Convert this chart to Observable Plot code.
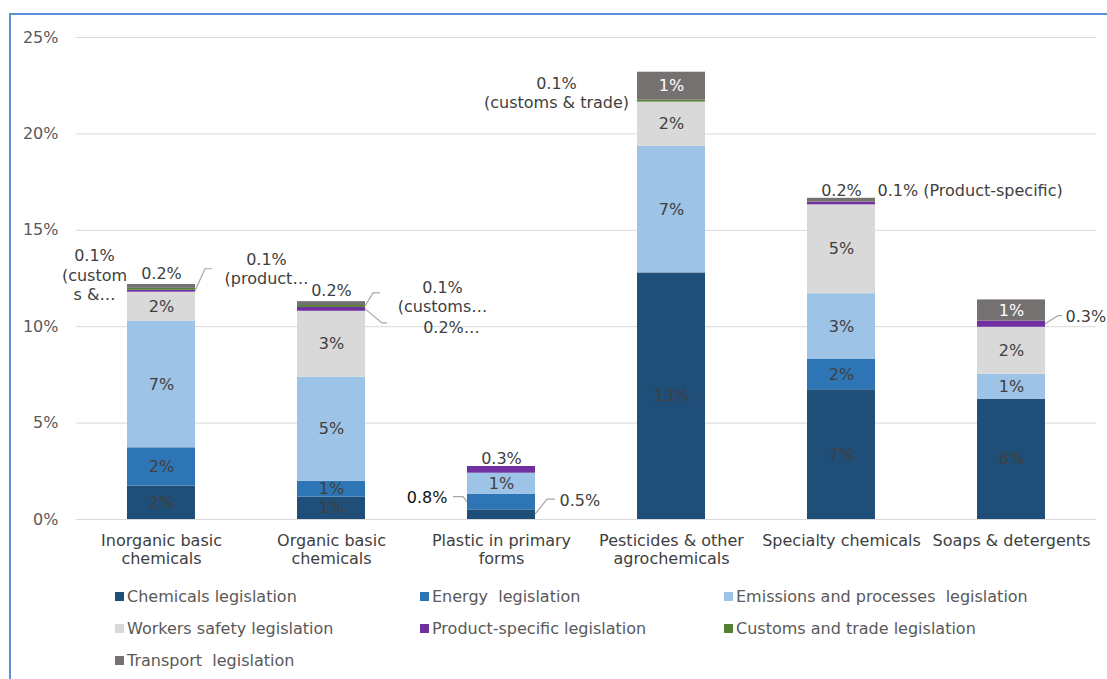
<!DOCTYPE html>
<html><head><meta charset="utf-8">
<script src="https://cdn.jsdelivr.net/npm/d3@7"></script>
<script src="https://cdn.jsdelivr.net/npm/@observablehq/plot@0.6"></script>
<style>
body{margin:0;background:#fff;font-family:"DejaVu Sans",Verdana,sans-serif;}
#wrap{position:relative;width:1107px;height:679px;overflow:hidden;background:#fff;}
#frame{position:absolute;left:9px;top:13px;width:1200px;height:720px;border:2px solid #5B8FD6;box-sizing:border-box;pointer-events:none;}
#chart{position:absolute;left:0;top:0;}
.sw{position:absolute;width:9px;height:9px;}
.lt{position:absolute;font-size:16px;line-height:20px;color:#595959;white-space:pre;}
</style></head>
<body><div id="wrap"><div id="chart"></div><div id="legend"></div><div id="frame"></div></div>
<script>
// ---- data ----
const categories = ["Inorganic basic chemicals","Organic basic chemicals","Plastic in primary forms","Pesticides & other agrochemicals","Specialty chemicals","Soaps & detergents"];
const categoryTickLabels = ["Inorganic basic\nchemicals","Organic basic\nchemicals","Plastic in primary\nforms","Pesticides & other\nagrochemicals","Specialty chemicals","Soaps & detergents"];
const series = ["Chemicals legislation","Energy  legislation","Emissions and processes  legislation","Workers safety legislation","Product-specific legislation","Customs and trade legislation","Transport  legislation"];
const colors = ["#1F4E79","#2E75B6","#9DC3E6","#D9D9D9","#7030A0","#548235","#767171"];

const chemicals = [1.73, 1.16, 0.50, 12.79, 6.73, 6.24];
const energy    = [1.99, 0.83, 0.80, 0.00, 1.57, 0.00];
const emissions = [6.57, 5.39, 1.10, 6.56, 3.41, 1.30];
const workers   = [1.50, 3.42, 0.00, 2.30, 4.61, 2.43];
const product   = [0.10, 0.20, 0.35, 0.00, 0.14, 0.32];
const customs   = [0.10, 0.10, 0.00, 0.10, 0.00, 0.00];
const transport = [0.20, 0.20, 0.00, 1.45, 0.20, 1.10];
const values = [chemicals, energy, emissions, workers, product, customs, transport];

const chemicalsLabels = ["2%","1%","","13%","7%","6%"];
const energyLabels    = ["2%","1%","","","2%",""];
const emissionsLabels = ["7%","5%","1%","7%","3%","1%"];
const workersLabels   = ["2%","3%","","2%","5%","2%"];
const productLabels   = ["","","","","",""];
const customsLabels   = ["","","","","",""];
const transportLabels = ["","","","1%","","1%"];
const innerLabels = [chemicalsLabels, energyLabels, emissionsLabels, workersLabels, productLabels, customsLabels, transportLabels];

const yTicks = [0, 5, 10, 15, 20, 25];
const yTickLabels = ["0%","5%","10%","15%","20%","25%"];

// outside labels: category index, series index, anchor ("top" of stack or "mid" of segment), text
const outsideLabels = [
  {c:0, s:5, at:"top", text:"0.1%\n(custom\ns &…", dx:-67, dy:-10, anchor:"middle"},
  {c:0, s:6, at:"top", text:"0.2%", dx:0, dy:-12, anchor:"middle"},
  {c:0, s:4, at:"top", text:"0.1%\n(product…", dx:105, dy:-16, anchor:"middle"},
  {c:1, s:6, at:"top", text:"0.2%", dx:0, dy:-12, anchor:"middle"},
  {c:1, s:5, at:"top", text:"0.1%\n(customs…", dx:111, dy:-5, anchor:"middle"},
  {c:1, s:4, at:"top", text:"0.2%…", dx:120, dy:25, anchor:"middle"},
  {c:2, s:4, at:"top", text:"0.3%", dx:0, dy:-9, anchor:"middle"},
  {c:2, s:1, at:"mid", text:"0.8%", dx:-54, dy:-5, anchor:"end", fill:"#111111"},
  {c:2, s:0, at:"mid", text:"0.5%", dx:58, dy:-15, anchor:"start"},
  {c:3, s:5, at:"mid", text:"0.1%\n(customs & trade)", dx:-115, dy:-9, anchor:"middle"},
  {c:4, s:6, at:"top", text:"0.2%", dx:0, dy:-8, anchor:"middle"},
  {c:4, s:4, at:"top", text:"0.1% (Product-specific)", dx:36, dy:-8, anchor:"start"},
  {c:5, s:4, at:"mid", text:"0.3%", dx:54, dy:-8, anchor:"start"}
];
// leader lines: from bar edge at segment middle, bends in pixels
const leaders = [
  {c:0, s:4, side:"right", pts:[[0,0],[10,-22],[17,-22]]},
  {c:1, s:5, side:"right", pts:[[0,0],[8,-13],[15,-13]]},
  {c:1, s:4, side:"right", pts:[[0,0],[17,14],[22,14]]},
  {c:2, s:1, side:"left",  pts:[[0,0],[-4,-5],[-14,-5]]},
  {c:2, s:0, side:"right", pts:[[0,0],[12,-15],[20,-15]]},
  {c:5, s:4, side:"right", pts:[[0,0],[13,-8],[17,-8]]}
];

// ---- build table ----
const data = [];
series.forEach((s, j) => categories.forEach((c, i) => data.push({category:c, series:s, value:values[j][i], label:innerLabels[j][i] || null})));
const stackTop = i => values.reduce((a, v) => a + v[i], 0);
const segMid = (i, j) => values.slice(0, j).reduce((a, v) => a + v[i], 0) + values[j][i] / 2;

const font = "DejaVu Sans, Verdana, sans-serif";
const plot = Plot.plot({
  width: 1107, height: 575,
  marginLeft: 76, marginRight: 11, marginTop: 37, marginBottom: 56,
  style: {fontFamily: font, fontSize: "16px", color: "#595959", background: "transparent", overflow: "visible"},
  x: {domain: categories, paddingInner: 0.6, paddingOuter: 0.3, label: null},
  y: {domain: [0, 25], label: null},
  color: {domain: series, range: colors},
  marks: [
    Plot.ruleY(yTicks, {stroke: "#D9D9D9", strokeWidth: 1}),
    Plot.axisY(yTicks, {tickSize: 0, tickPadding: 18, tickFormat: d => yTickLabels[yTicks.indexOf(d)], fontSize: 16, fill: "#595959", label: null}),
    Plot.axisX({tickSize: 0, tickPadding: 13, tickFormat: d => categoryTickLabels[categories.indexOf(d)], fontSize: 16, fill: "#404040", lineHeight: 1.15, label: null}),
    Plot.barY(data, {x: "category", y: "value", fill: "series"}),
    Plot.text(data, Plot.stackY({x: "category", y: "value", z: "series", text: "label", fontSize: 16,
      fill: d => d.series === series[6] ? "#FFFFFF" : "#404040"})),
    ...outsideLabels.map(e => Plot.text([e], {
      x: d => categories[d.c],
      y: d => d.at === "top" ? stackTop(d.c) : segMid(d.c, d.s),
      text: "text", dx: e.dx, dy: e.dy, textAnchor: e.anchor, lineAnchor: "middle", lineHeight: 1.2,
      fontSize: 16, fill: e.fill || "#404040"
    }))
  ]
});
document.getElementById("chart").appendChild(plot);

// leader lines positioned through the plot's scales
const xs = plot.scale("x"), ys = plot.scale("y");
const g = d3.select(plot).append("g").attr("fill", "none").attr("stroke", "#A6A6A6").attr("stroke-width", 1.2);
leaders.forEach(L => {
  const x0 = xs.apply(categories[L.c]) + (L.side === "right" ? xs.bandwidth : 0);
  const y0 = ys.apply(segMid(L.c, L.s));
  g.append("path").attr("d", d3.line()(L.pts.map(([dx, dy]) => [x0 + dx, y0 + dy])));
});

// legend (HTML, below the SVG)
const legCols = [115, 420, 724], legRows = [597, 629, 661];
const leg = document.getElementById("legend");
series.forEach((s, k) => {
  const x = legCols[k % 3], y = legRows[Math.floor(k / 3)];
  const sw = document.createElement("div"); sw.className = "sw";
  sw.style.left = x + "px"; sw.style.top = (y - 5) + "px"; sw.style.background = colors[k];
  const t = document.createElement("div"); t.className = "lt";
  t.style.left = (x + 12) + "px"; t.style.top = (y - 10) + "px"; t.textContent = s;
  leg.appendChild(sw); leg.appendChild(t);
});
</script></body></html>
